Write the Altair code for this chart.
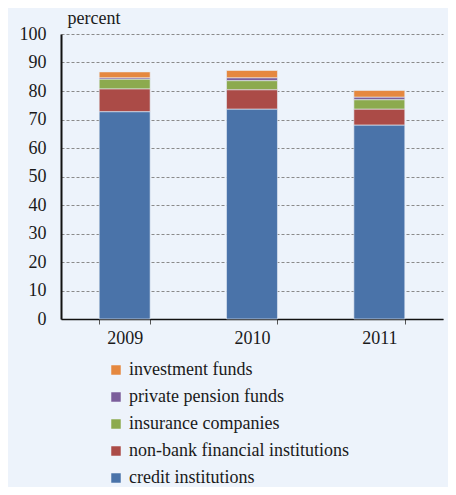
import altair as alt
import pandas as pd

years = ["2009", "2010", "2011"]
series = ["investment funds", "private pension funds", "insurance companies",
          "non-bank financial institutions", "credit institutions"]
stack_rank = [4, 3, 2, 1, 0]
colors = ["#E5883F", "#7B5E9B", "#8CAA4E", "#AB4B47", "#4A73A9"]
credit = [72.7, 73.6, 68.0]
nonbank = [8.0, 6.8, 5.6]
insurance = [3.4, 3.2, 3.3]
pension = [0.5, 1.0, 0.9]
investment = [2.1, 2.6, 2.4]

vals = {
    "investment funds": investment,
    "private pension funds": pension,
    "insurance companies": insurance,
    "non-bank financial institutions": nonbank,
    "credit institutions": credit,
}
rows = []
for s, r in zip(series, stack_rank):
    for y, v in zip(years, vals[s]):
        rows.append({"year": y, "series": s, "value": v, "rank": r})
df = pd.DataFrame(rows)

font = "'Liberation Serif', 'Times New Roman', serif"
chart = alt.Chart(df).mark_bar(stroke="#E8EEF6", strokeWidth=0.6).encode(
    x=alt.X("year:N", title=None,
            scale=alt.Scale(paddingInner=0.6, paddingOuter=0.3),
            axis=alt.Axis(labelAngle=0, tickBand="extent", domainColor="#111",
                          domainWidth=1.5, tickColor="#555", tickSize=5,
                          labelPadding=5, labelFont=font, labelFontSize=18,
                          labelColor="#1a1a1a", grid=False)),
    y=alt.Y("value:Q", stack="zero",
            scale=alt.Scale(domain=[0, 100], nice=False),
            axis=alt.Axis(values=list(range(0, 101, 10)), title="percent",
                          titleAngle=0, titleX=6, titleY=-11, titleAlign="left",
                          titleBaseline="alphabetic", titleFont=font,
                          titleFontSize=18, titleFontWeight="normal",
                          titleColor="#1a1a1a",
                          domainColor="#111", domainWidth=2, tickSize=0,
                          labelPadding=15, labelFont=font, labelFontSize=18,
                          labelColor="#1a1a1a", gridColor="#8a8a8a",
                          gridDash=[3, 2], gridWidth=1)),
    color=alt.Color("series:N", scale=alt.Scale(domain=series, range=colors),
                    legend=alt.Legend(title=None, orient="none", legendX=46,
                                      legendY=327, symbolType="square",
                                      symbolSize=90, symbolStrokeWidth=0,
                                      labelFont=font, labelFontSize=18,
                                      labelColor="#1a1a1a", rowPadding=9,
                                      labelOffset=4, labelLimit=400)),
    order=alt.Order("rank:Q", sort="ascending"),
).properties(
    width=382, height=285,
    padding={"left": 53, "top": 26, "right": 5, "bottom": 168},
    autosize=alt.AutoSizeParams(type="none"),
    background="#EDF3FB",
).configure_view(stroke=None)

chart.save("out.html", embed_options={"renderer": "svg", "actions": False})
